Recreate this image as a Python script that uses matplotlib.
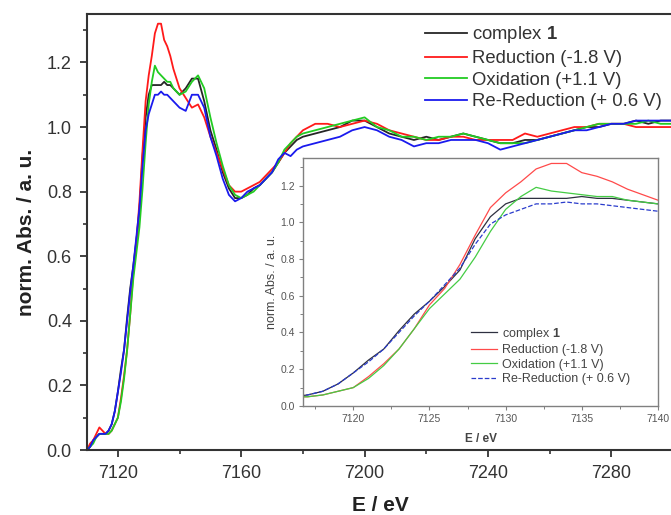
import matplotlib
matplotlib.use("Agg")
import matplotlib.pyplot as plt
from matplotlib.ticker import MultipleLocator, FormatStrFormatter

plt.rcParams['font.family'] = ['Liberation Sans', 'DejaVu Sans']
plt.rcParams['mathtext.fontset'] = 'custom'
plt.rcParams['mathtext.bf'] = 'Liberation Sans:bold'
plt.rcParams['mathtext.rm'] = 'Liberation Sans'

# energy grid (eV)
energy = (list(range(7110, 7141, 1)) + list(range(7142, 7181, 2))
          + list(range(7184, 7301, 4)))

complex1 = [0.00, 0.01, 0.03, 0.04, 0.05, 0.05, 0.05, 0.06, 0.08, 0.12,
            0.18, 0.25, 0.31, 0.41, 0.50, 0.57, 0.65, 0.74, 0.91, 1.03,
            1.10, 1.13, 1.13, 1.13, 1.13, 1.14, 1.13, 1.13, 1.12, 1.11,
            1.10,
            1.12, 1.15, 1.15, 1.08, 0.99, 0.93, 0.86, 0.81, 0.78, 0.78,
            0.79, 0.81, 0.82, 0.84, 0.86, 0.89, 0.92, 0.94, 0.96, 0.97,
            0.98, 0.99, 1.00, 1.02, 1.02, 1.00, 0.98, 0.97, 0.96, 0.97,
            0.96, 0.97, 0.98, 0.97, 0.96, 0.95, 0.95, 0.96, 0.96, 0.97,
            0.98, 0.99, 1.00, 1.00, 1.01, 1.01, 1.02, 1.01, 1.02, 1.02]

reduction = [0.00, 0.02, 0.03, 0.05, 0.07, 0.06, 0.05, 0.05, 0.06, 0.08,
             0.10, 0.16, 0.23, 0.31, 0.42, 0.55, 0.64, 0.77, 0.93, 1.08,
             1.16, 1.22, 1.29, 1.32, 1.32, 1.27, 1.25, 1.22, 1.18, 1.15,
             1.12,
             1.09, 1.06, 1.07, 1.03, 0.97, 0.92, 0.87, 0.82, 0.80, 0.80,
             0.81, 0.82, 0.83, 0.85, 0.87, 0.89, 0.92, 0.95, 0.97, 0.99,
             1.01, 1.01, 1.00, 1.01, 1.02, 1.01, 0.99, 0.98, 0.97, 0.96,
             0.96, 0.97, 0.97, 0.96, 0.96, 0.96, 0.96, 0.98, 0.97, 0.98,
             0.99, 1.00, 1.00, 1.01, 1.01, 1.01, 1.00, 1.00, 1.00, 1.00]

oxidation = [0.00, 0.01, 0.02, 0.04, 0.05, 0.05, 0.05, 0.05, 0.06, 0.08,
             0.10, 0.15, 0.22, 0.31, 0.42, 0.53, 0.61, 0.69, 0.81, 0.95,
             1.07, 1.14, 1.19, 1.17, 1.16, 1.15, 1.14, 1.14, 1.12, 1.11,
             1.10,
             1.11, 1.14, 1.16, 1.12, 1.03, 0.95, 0.88, 0.82, 0.79, 0.78,
             0.79, 0.80, 0.82, 0.84, 0.86, 0.89, 0.93, 0.95, 0.97, 0.98,
             0.99, 1.00, 1.01, 1.02, 1.03, 1.00, 0.99, 0.97, 0.97, 0.96,
             0.97, 0.97, 0.98, 0.97, 0.96, 0.95, 0.95, 0.95, 0.96, 0.97,
             0.98, 0.99, 1.00, 1.01, 1.01, 1.01, 1.01, 1.02, 1.01, 1.01]

re_reduction = [0.00, 0.01, 0.03, 0.04, 0.05, 0.05, 0.05, 0.06, 0.08, 0.12,
                0.18, 0.24, 0.31, 0.40, 0.49, 0.57, 0.66, 0.75, 0.88, 0.99,
                1.04, 1.07, 1.10, 1.10, 1.11, 1.10, 1.10, 1.09, 1.08, 1.07,
                1.06,
                1.05, 1.10, 1.10, 1.06, 0.97, 0.91, 0.84, 0.79, 0.77, 0.78,
                0.80, 0.81, 0.82, 0.84, 0.86, 0.90, 0.92, 0.91, 0.93, 0.94,
                0.95, 0.96, 0.97, 0.99, 1.00, 0.99, 0.97, 0.96, 0.94, 0.95,
                0.95, 0.96, 0.96, 0.96, 0.95, 0.93, 0.94, 0.95, 0.96, 0.97,
                0.98, 0.99, 0.99, 1.00, 1.01, 1.01, 1.02, 1.02, 1.02, 1.02]

labels = [r'complex $\mathbf{1}$', 'Reduction (-1.8 V)',
          'Oxidation (+1.1 V)', 'Re-Reduction (+ 0.6 V)']
series = [complex1, reduction, oxidation, re_reduction]

main_colors = ['#262626', '#ff1a1a', '#22cc22', '#1a1aee']
inset_colors = ['#2e3040', '#ff4a4a', '#44cc44', '#2a3ccc']
inset_styles = ['-', '-', '-', '--']

fig = plt.figure(figsize=(6.71, 5.15), dpi=100)
ax = fig.add_axes([0.1297, 0.1262, 0.8733, 0.8466])

for y, c, lab in zip(series, main_colors, labels):
    ax.plot(energy, y, color=c, lw=1.3, label=lab)

ax.set_xlim(7110, 7300)
ax.set_ylim(0, 1.35)
ax.xaxis.set_major_locator(MultipleLocator(40))
ax.xaxis.set_minor_locator(MultipleLocator(20))
ax.yaxis.set_major_locator(MultipleLocator(0.2))
ax.yaxis.set_minor_locator(MultipleLocator(0.1))
ax.yaxis.set_major_formatter(FormatStrFormatter('%.1f'))
for s in ax.spines.values():
    s.set_color('#333333')
    s.set_linewidth(1.5)
ax.tick_params(which='major', direction='out', length=5, width=1.3, pad=6,
               colors='#333333', labelsize=13, labelcolor='#333333')
ax.tick_params(which='minor', direction='out', length=3, width=1.2,
               colors='#333333')
ax.set_xlabel('E / eV', fontsize=15, fontweight='bold', labelpad=10,
              color='#222222')
ax.set_ylabel('norm. Abs. / a. u.', fontsize=15, fontweight='bold',
              labelpad=8, color='#222222')

leg = ax.legend(loc='upper right', bbox_to_anchor=(0.994, 0.993),
                frameon=False, fontsize=13.3, handlelength=2.3,
                handletextpad=0.27, labelspacing=0.25, borderaxespad=0)
for t in leg.get_texts():
    t.set_color('#333333')

# inset: zoom on the edge region
axi = fig.add_axes([0.4516, 0.2117, 0.529, 0.4816])
for y, c, ls, lab in zip(series, inset_colors, inset_styles, labels):
    axi.plot(energy, y, color=c, lw=0.9, ls=ls, label=lab)
axi.set_xlim(7116.7, 7140)
axi.set_ylim(0, 1.35)
axi.xaxis.set_major_locator(MultipleLocator(5))
axi.xaxis.set_minor_locator(MultipleLocator(2.5))
axi.yaxis.set_major_locator(MultipleLocator(0.2))
axi.yaxis.set_minor_locator(MultipleLocator(0.1))
axi.yaxis.set_major_formatter(FormatStrFormatter('%.1f'))
for s in axi.spines.values():
    s.set_color('#808080')
    s.set_linewidth(1.0)
axi.tick_params(which='major', direction='out', length=3, width=0.8, pad=3,
                colors='#808080', labelsize=7.5, labelcolor='#555555')
axi.tick_params(which='minor', direction='out', length=2, width=0.7,
                colors='#808080')
axi.set_xlabel('E / eV', fontsize=8.5, fontweight='bold', color='#444444',
               labelpad=6)
axi.set_ylabel('norm. Abs. / a. u.', fontsize=9, color='#444444',
               labelpad=1.5)

legi = axi.legend(loc='lower right', bbox_to_anchor=(0.935, 0.064),
                  frameon=False, fontsize=9, handlelength=2.1,
                  handletextpad=0.4, labelspacing=0.2, borderaxespad=0)
for t in legi.get_texts():
    t.set_color('#444444')

fig.savefig('out.png', dpi=100)
